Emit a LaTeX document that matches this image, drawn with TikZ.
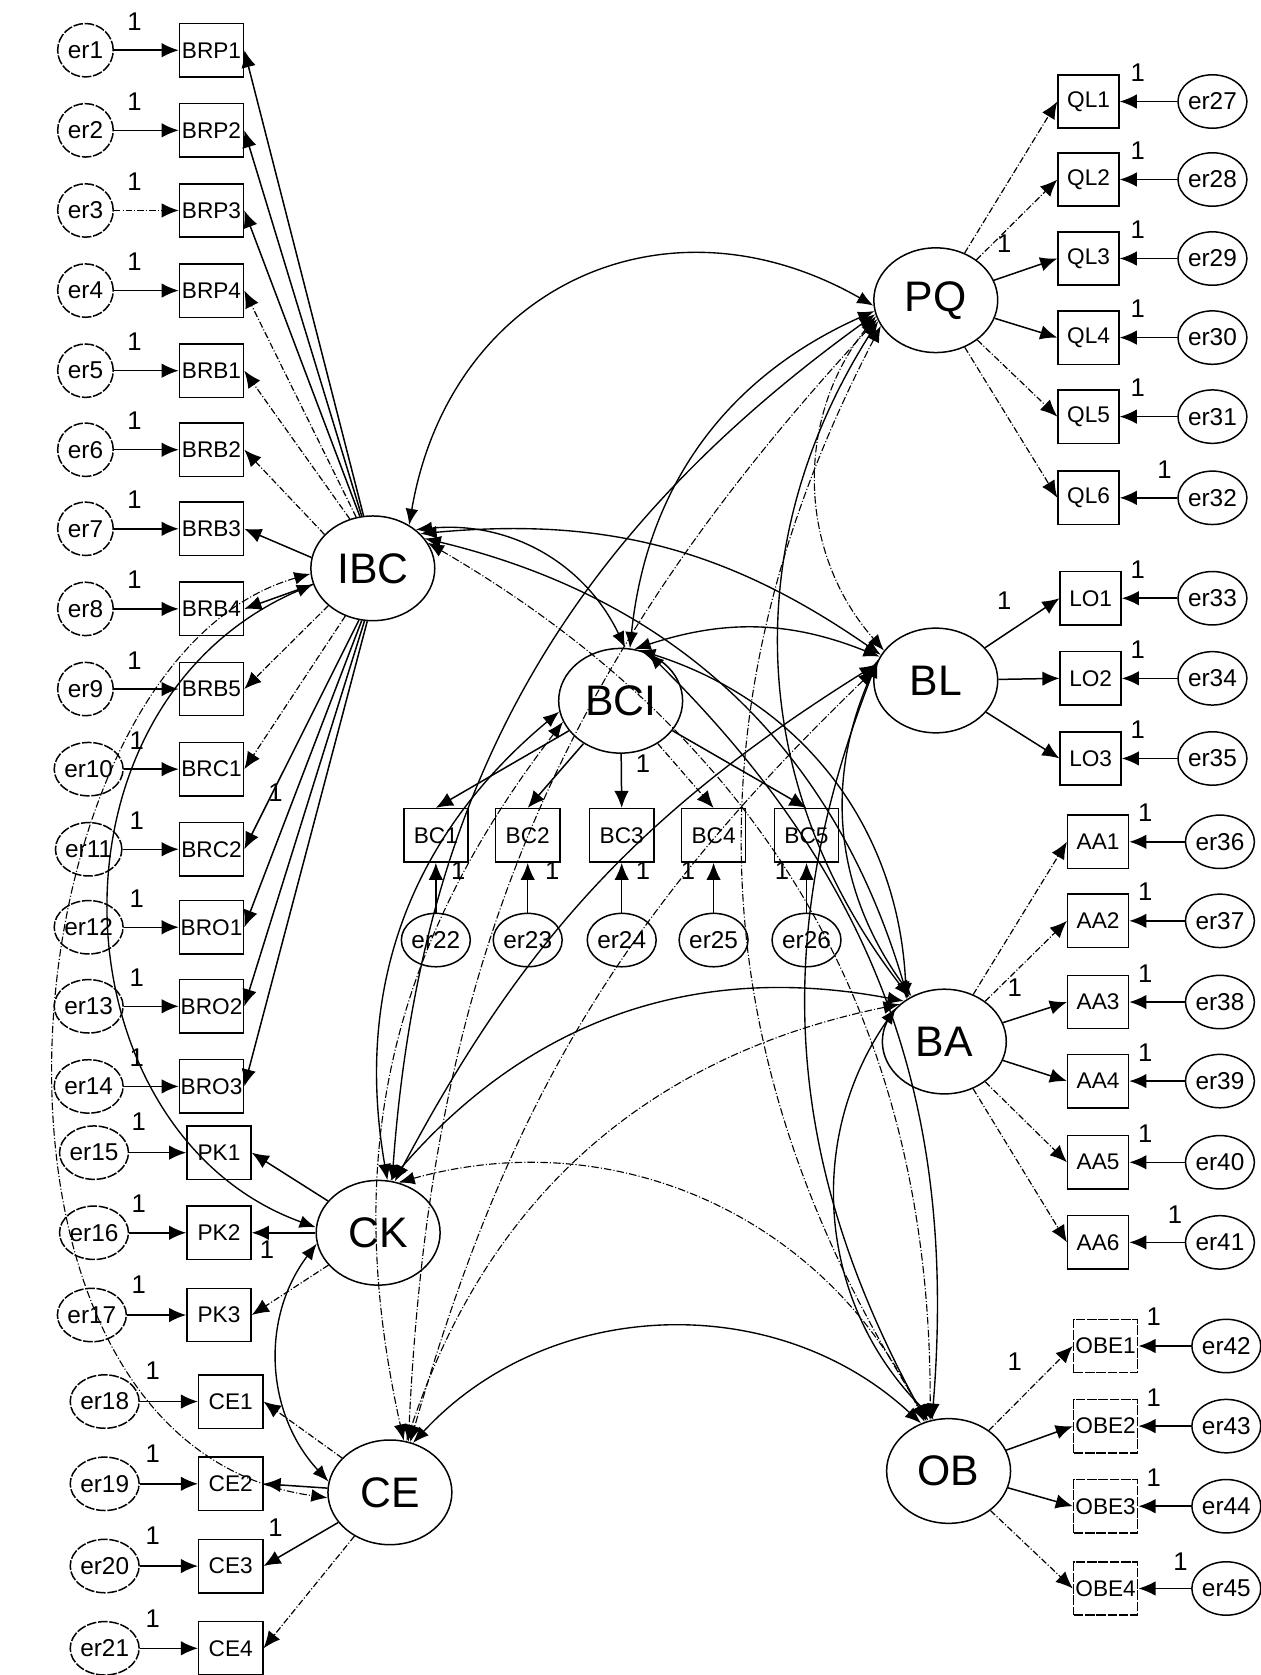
\documentclass[tikz,border=0pt]{standalone}
\usepackage{fontspec}
\setmainfont{Liberation Sans}
\usetikzlibrary{shapes.geometric, arrows.meta, positioning}
\tikzset{
    % Latent constructs - large ellipses
    latent var/.style={ellipse, draw, line width=0.35pt, minimum width=29pt, minimum height=24.5pt, inner sep=0pt, font=\fontsize{10}{10}\selectfont},
    % Observed items - boxes
    obs var/.style={rectangle, draw, line width=0.35pt, minimum width=15pt, minimum height=12.5pt, inner sep=0pt, font=\fontsize{5.3}{5.3}\selectfont},
    obs dash/.style={obs var, dash pattern=on 2.25pt off 0.4pt},
    % Error terms - small circles
    error var/.style={ellipse, draw, line width=0.35pt, minimum width=13pt, minimum height=12.5pt, inner sep=0pt, font=\fontsize{5.7}{5.7}\selectfont},
    error dash/.style={error var, dash pattern=on 2.25pt off 0.4pt},
    % Regression weights
    load line/.style={-{Latex[length=4pt,width=3.4pt]}, line width=0.35pt},
    load faint/.style={load line, line width=0.28pt, dash pattern=on 1.5pt off 0.5pt on 0.25pt off 0.5pt},
    % Covariances
    cov line/.style={{Latex[length=3.8pt,width=3pt]}-{Latex[length=3.8pt,width=3pt]}, line width=0.32pt},
    cov faint/.style={cov line, line width=0.26pt, dash pattern=on 1.75pt off 0.5pt on 0.25pt off 0.5pt},
    % Fixed parameter labels
    unit label/.style={inner sep=0pt, font=\fontsize{6}{6}\selectfont}
}

\begin{document}
\begin{tikzpicture}[x=0.25pt, y=0.25pt]
    \useasboundingbox (0,0) rectangle (1180,-1568);

    % --- Latent variables ---
    \node[latent var] (IBC) at (349,-532) {IBC};
    \node[latent var] (PQ) at (876,-281) {PQ};
    \node[latent var] (BCI) at (581,-656) {BCI};
    \node[latent var] (BL) at (876,-637) {BL};
    \node[latent var] (BA) at (884,-975) {BA};
    \node[latent var] (CK) at (354,-1154) {CK};
    \node[latent var] (CE) at (365,-1397) {CE};
    \node[latent var] (OB) at (888,-1377) {OB};

    % --- Left column: IBC items ---
    \node[obs var] (BRP1) at (198,-47) {BRP1};
    \node[obs var] (BRP2) at (198,-122) {BRP2};
    \node[obs var] (BRP3) at (198,-197) {BRP3};
    \node[obs var] (BRP4) at (198,-272) {BRP4};
    \node[obs var] (BRB1) at (198,-347) {BRB1};
    \node[obs var] (BRB2) at (198,-421) {BRB2};
    \node[obs var] (BRB3) at (198,-495) {BRB3};
    \node[obs var] (BRB4) at (198,-570) {BRB4};
    \node[obs var] (BRB5) at (198,-645) {BRB5};
    \node[obs var] (BRC1) at (198,-720) {BRC1};
    \node[obs var] (BRC2) at (198,-795) {BRC2};
    \node[obs var] (BRO1) at (198,-868) {BRO1};
    \node[obs var] (BRO2) at (198,-942) {BRO2};
    \node[obs var] (BRO3) at (198,-1017) {BRO3};
    % CK and CE items
    \node[obs var] (PK1) at (205,-1079) {PK1};
    \node[obs var] (PK2) at (205,-1154) {PK2};
    \node[obs var] (PK3) at (205,-1231) {PK3};
    \node[obs var] (CE1) at (216,-1312) {CE1};
    \node[obs var] (CE2) at (216,-1389) {CE2};
    \node[obs var] (CE3) at (216,-1466) {CE3};
    \node[obs var] (CE4) at (216,-1543) {CE4};

    % --- Left column: error terms ---
    \node[error dash] (er1) at (80,-47) {er1};
    \node[error dash] (er2) at (80,-122) {er2};
    \node[error dash] (er3) at (80,-197) {er3};
    \node[error dash] (er4) at (80,-272) {er4};
    \node[error dash] (er5) at (80,-347) {er5};
    \node[error dash] (er6) at (80,-421) {er6};
    \node[error dash] (er7) at (80,-495) {er7};
    \node[error dash] (er8) at (80,-570) {er8};
    \node[error dash] (er9) at (80,-645) {er9};
    \node[error dash] (er10) at (83,-720) {er10};
    \node[error dash] (er11) at (83,-795) {er11};
    \node[error dash] (er12) at (83,-868) {er12};
    \node[error dash] (er13) at (83,-942) {er13};
    \node[error dash] (er14) at (83,-1017) {er14};
    \node[error dash] (er15) at (88,-1079) {er15};
    \node[error dash] (er16) at (88,-1154) {er16};
    \node[error dash] (er17) at (86,-1231) {er17};
    \node[error dash] (er18) at (98,-1312) {er18};
    \node[error dash] (er19) at (98,-1389) {er19};
    \node[error dash] (er20) at (98,-1466) {er20};
    \node[error dash] (er21) at (98,-1543) {er21};

    % --- BCI items ---
    \node[obs var] (BC1) at (408,-782) {BC1};
    \node[obs var] (BC2) at (494,-782) {BC2};
    \node[obs var] (BC3) at (582,-782) {BC3};
    \node[obs var] (BC4) at (668,-782) {BC4};
    \node[obs var] (BC5) at (755,-782) {BC5};
    \node[error var] (er22) at (408,-880) {er22};
    \node[error var] (er23) at (494,-880) {er23};
    \node[error var] (er24) at (582,-880) {er24};
    \node[error var] (er25) at (668,-880) {er25};
    \node[error var] (er26) at (755,-880) {er26};

    % --- Right column: PQ, BL, BA, OB items ---
    \node[obs var, minimum width=14.25pt] (QL1) at (1019,-95) {QL1};
    \node[obs var, minimum width=14.25pt] (QL2) at (1019,-168) {QL2};
    \node[obs var, minimum width=14.25pt] (QL3) at (1019,-242) {QL3};
    \node[obs var, minimum width=14.25pt] (QL4) at (1019,-316) {QL4};
    \node[obs var, minimum width=14.25pt] (QL5) at (1019,-390) {QL5};
    \node[obs var, minimum width=14.25pt] (QL6) at (1019,-466) {QL6};
    \node[obs var, minimum width=14.25pt] (LO1) at (1021,-560) {LO1};
    \node[obs var, minimum width=14.25pt] (LO2) at (1021,-635) {LO2};
    \node[obs var, minimum width=14.25pt] (LO3) at (1021,-710) {LO3};
    \node[obs var, minimum width=14.25pt] (AA1) at (1028,-788) {AA1};
    \node[obs var, minimum width=14.25pt] (AA2) at (1028,-862) {AA2};
    \node[obs var, minimum width=14.25pt] (AA3) at (1028,-938) {AA3};
    \node[obs var, minimum width=14.25pt] (AA4) at (1028,-1012) {AA4};
    \node[obs var, minimum width=14.25pt] (AA5) at (1028,-1088) {AA5};
    \node[obs var, minimum width=14.25pt] (AA6) at (1028,-1163) {AA6};
    \node[obs dash] (OBE1) at (1035,-1260) {OBE1};
    \node[obs dash] (OBE2) at (1035,-1335) {OBE2};
    \node[obs dash] (OBE3) at (1035,-1410) {OBE3};
    \node[obs dash] (OBE4) at (1035,-1487) {OBE4};

    % --- Right column: error terms ---
    \node[error var] (er27) at (1135,-95) {er27};
    \node[error var] (er28) at (1135,-168) {er28};
    \node[error var] (er29) at (1135,-242) {er29};
    \node[error var] (er30) at (1135,-316) {er30};
    \node[error var] (er31) at (1135,-390) {er31};
    \node[error var] (er32) at (1135,-466) {er32};
    \node[error var] (er33) at (1135,-560) {er33};
    \node[error var] (er34) at (1135,-635) {er34};
    \node[error var] (er35) at (1135,-710) {er35};
    \node[error var] (er36) at (1142,-788) {er36};
    \node[error var] (er37) at (1142,-862) {er37};
    \node[error var] (er38) at (1142,-938) {er38};
    \node[error var] (er39) at (1142,-1012) {er39};
    \node[error var] (er40) at (1142,-1088) {er40};
    \node[error var] (er41) at (1142,-1163) {er41};
    \node[error var] (er42) at (1148,-1260) {er42};
    \node[error var] (er43) at (1148,-1335) {er43};
    \node[error var] (er44) at (1148,-1410) {er44};
    \node[error var] (er45) at (1148,-1487) {er45};

    % --- Error paths ---
    \draw[load line] (er1) -- (BRP1);
    \draw[load line] (er2) -- (BRP2);
    \draw[load faint] (er3) -- (BRP3);
    \draw[load line] (er4) -- (BRP4);
    \draw[load line] (er5) -- (BRB1);
    \draw[load line] (er6) -- (BRB2);
    \draw[load line] (er7) -- (BRB3);
    \draw[load line] (er8) -- (BRB4);
    \draw[load line] (er9) -- (BRB5);
    \draw[load line] (er10) -- (BRC1);
    \draw[load line] (er11) -- (BRC2);
    \draw[load line] (er12) -- (BRO1);
    \draw[load line] (er13) -- (BRO2);
    \draw[load line] (er14) -- (BRO3);
    \draw[load line] (er15) -- (PK1);
    \draw[load line] (er16) -- (PK2);
    \draw[load line] (er17) -- (PK3);
    \draw[load line] (er18) -- (CE1);
    \draw[load line] (er19) -- (CE2);
    \draw[load line] (er20) -- (CE3);
    \draw[load line] (er21) -- (CE4);
    \draw[load line] (er22) -- (BC1);
    \draw[load line] (er23) -- (BC2);
    \draw[load line] (er24) -- (BC3);
    \draw[load line] (er25) -- (BC4);
    \draw[load line] (er26) -- (BC5);
    \draw[load line] (er27) -- (QL1);
    \draw[load line] (er28) -- (QL2);
    \draw[load line] (er29) -- (QL3);
    \draw[load line] (er30) -- (QL4);
    \draw[load line] (er31) -- (QL5);
    \draw[load line] (er32) -- (QL6);
    \draw[load line] (er33) -- (LO1);
    \draw[load line] (er34) -- (LO2);
    \draw[load line] (er35) -- (LO3);
    \draw[load line] (er36) -- (AA1);
    \draw[load line] (er37) -- (AA2);
    \draw[load line] (er38) -- (AA3);
    \draw[load line] (er39) -- (AA4);
    \draw[load line] (er40) -- (AA5);
    \draw[load line] (er41) -- (AA6);
    \draw[load line] (er42) -- (OBE1);
    \draw[load line] (er43) -- (OBE2);
    \draw[load line] (er44) -- (OBE3);
    \draw[load line] (er45) -- (OBE4);

    % --- Factor loadings ---
    \draw[load line] (IBC.100) -- (BRP1.east);
    \draw[load line] (IBC.102) -- (BRP2.east);
    \draw[load line] (IBC.104) -- (BRP3.east);
    \draw[load faint] (IBC.108) -- (BRP4.east);
    \draw[load faint] (IBC.115) -- (BRB1.east);
    \draw[load faint] (IBC.145) -- (BRB2.east);
    \draw[load line] (IBC.170) -- (BRB3.east);
    \draw[load line] (IBC.195) -- (BRB4.east);
    \draw[load faint] (IBC.220) -- (BRB5.east);
    \draw[load faint] (IBC.240) -- (BRC1.east);
    \draw[load line] (IBC.255) -- (BRC2.east);
    \draw[load line] (IBC.258) -- (BRO1.east);
    \draw[load line] (IBC.261) -- (BRO2.east);
    \draw[load line] (IBC.264) -- (BRO3.east);
    \draw[load line] (CK) -- (PK1.east);
    \draw[load line] (CK) -- (PK2.east);
    \draw[load faint] (CK) -- (PK3.east);
    \draw[load faint] (CE) -- (CE1.east);
    \draw[load line] (CE) -- (CE2.east);
    \draw[load line] (CE) -- (CE3.east);
    \draw[load faint] (CE) -- (CE4.east);
    \draw[load line] (BCI) -- (BC1.north);
    \draw[load line] (BCI) -- (BC2.north);
    \draw[load line] (BCI) -- (BC3.north);
    \draw[load faint] (BCI) -- (BC4.north);
    \draw[load line] (BCI) -- (BC5.north);
    \draw[load faint] (PQ) -- (QL1.west);
    \draw[load faint] (PQ) -- (QL2.west);
    \draw[load line] (PQ) -- (QL3.west);
    \draw[load line] (PQ) -- (QL4.west);
    \draw[load faint] (PQ) -- (QL5.west);
    \draw[load faint] (PQ) -- (QL6.west);
    \draw[load line] (BL) -- (LO1.west);
    \draw[load line] (BL) -- (LO2.west);
    \draw[load line] (BL) -- (LO3.west);
    \draw[load faint] (BA) -- (AA1.west);
    \draw[load faint] (BA) -- (AA2.west);
    \draw[load line] (BA) -- (AA3.west);
    \draw[load line] (BA) -- (AA4.west);
    \draw[load faint] (BA) -- (AA5.west);
    \draw[load faint] (BA) -- (AA6.west);
    \draw[load faint] (OB) -- (OBE1.west);
    \draw[load line] (OB) -- (OBE2.west);
    \draw[load line] (OB) -- (OBE3.west);
    \draw[load faint] (OB) -- (OBE4.west);

    % --- Covariances between constructs ---
    \draw[cov line] (IBC.50) to[bend left=55, looseness=1.2] (PQ.185);
    \draw[cov line] (IBC.42) to[bend left=35] (BCI.85);
    \draw[cov line] (IBC.36) to[bend left=20] (BL.155);
    \draw[cov line] (IBC.30) to[bend left=30] (BA.130);
    \draw[cov faint] (IBC.25) to[bend left=30] (OB.110);
    \draw[cov line] (IBC.195) .. controls (30,-660) and (50,-1060) .. (CK.175);
    \draw[cov faint] (IBC.185) .. controls (0,-620) and (-60,-1350) .. (CE.185);
    \draw[cov line] (PQ.190) to[bend right=30] (BCI.80);
    \draw[cov faint] (PQ.195) to[bend right=40] (BL.150);
    \draw[cov line] (PQ.200) to[bend right=35] (BA.128);
    \draw[cov line] (PQ.193) to[bend right=25] (CK.75);
    \draw[cov faint] (PQ.198) to[bend right=20] (CE.70);
    \draw[cov faint] (PQ.205) to[bend right=30] (OB.112);
    \draw[cov line] (BCI.75) to[bend left=20] (BL.157);
    \draw[cov line] (BCI.70) to[bend left=35] (BA.132);
    \draw[cov line] (BCI.190) to[bend right=30] (CK.80);
    \draw[cov faint] (BCI.200) to[bend right=25] (CE.75);
    \draw[cov line] (BCI.60) to[bend left=25] (OB.108);
    \draw[cov line] (BL.160) to[bend right=30] (BA.126);
    \draw[cov line] (BL.165) to[bend right=15] (CK.72);
    \draw[cov faint] (BL.170) to[bend right=15] (CE.68);
    \draw[cov line] (BL.162) to[bend right=25] (OB.114);
    \draw[cov line] (BA.135) to[bend right=30] (CK.77);
    \draw[cov faint] (BA.140) to[bend right=30] (CE.72);
    \draw[cov line] (BA.145) to[bend right=40] (OB.106);
    \draw[cov line] (CK.190) to[bend right=40] (CE.170);
    \draw[cov faint] (CK.68) to[bend left=40] (OB.116);
    \draw[cov line] (CE.65) to[bend left=45] (OB.120);

    % --- Fixed weights (1) ---
    \node[unit label] (u1) at (126,-20) {1};
    \node[unit label] (u2) at (126,-95) {1};
    \node[unit label] (u3) at (126,-170) {1};
    \node[unit label] (u4) at (126,-245) {1};
    \node[unit label] (u5) at (126,-320) {1};
    \node[unit label] (u6) at (126,-394) {1};
    \node[unit label] (u7) at (126,-468) {1};
    \node[unit label] (u8) at (126,-543) {1};
    \node[unit label] (u9) at (126,-618) {1};
    \node[unit label] (u10) at (128,-693) {1};
    \node[unit label] (u11) at (128,-768) {1};
    \node[unit label] (u12) at (128,-841) {1};
    \node[unit label] (u13) at (128,-915) {1};
    \node[unit label] (u14) at (128,-990) {1};
    \node[unit label] (u15) at (130,-1050) {1};
    \node[unit label] (u16) at (130,-1127) {1};
    \node[unit label] (u17) at (130,-1203) {1};
    \node[unit label] (u18) at (143,-1283) {1};
    \node[unit label] (u19) at (143,-1361) {1};
    \node[unit label] (u20) at (143,-1438) {1};
    \node[unit label] (u21) at (143,-1515) {1};
    \node[unit label] (u22) at (429,-815) {1};
    \node[unit label] (u23) at (517,-815) {1};
    \node[unit label] (u24) at (602,-815) {1};
    \node[unit label] (u25) at (644,-815) {1};
    \node[unit label] (u26) at (732,-815) {1};
    \node[unit label] (u27) at (1065,-68) {1};
    \node[unit label] (u28) at (1065,-141) {1};
    \node[unit label] (u29) at (1065,-215) {1};
    \node[unit label] (u30) at (1065,-289) {1};
    \node[unit label] (u31) at (1065,-363) {1};
    \node[unit label] (u32) at (1090,-440) {1};
    \node[unit label] (u33) at (1065,-533) {1};
    \node[unit label] (u34) at (1065,-608) {1};
    \node[unit label] (u35) at (1065,-683) {1};
    \node[unit label] (u36) at (1072,-761) {1};
    \node[unit label] (u37) at (1072,-835) {1};
    \node[unit label] (u38) at (1072,-911) {1};
    \node[unit label] (u39) at (1072,-985) {1};
    \node[unit label] (u40) at (1072,-1061) {1};
    \node[unit label] (u41) at (1100,-1137) {1};
    \node[unit label] (u42) at (1080,-1233) {1};
    \node[unit label] (u43) at (1080,-1308) {1};
    \node[unit label] (u44) at (1080,-1383) {1};
    \node[unit label] (u45) at (1105,-1462) {1};
    % loading labels next to constructs
    \node[unit label] (uPQ) at (940,-228) {1};
    \node[unit label] (uBL) at (940,-562) {1};
    \node[unit label] (uBA) at (950,-925) {1};
    \node[unit label] (uOB) at (950,-1275) {1};
    \node[unit label] (uBCI) at (602,-715) {1};
    \node[unit label] (uIBC) at (258,-742) {1};
    \node[unit label] (uCK) at (250,-1170) {1};
    \node[unit label] (uCE) at (258,-1430) {1};

\end{tikzpicture}
\end{document}
